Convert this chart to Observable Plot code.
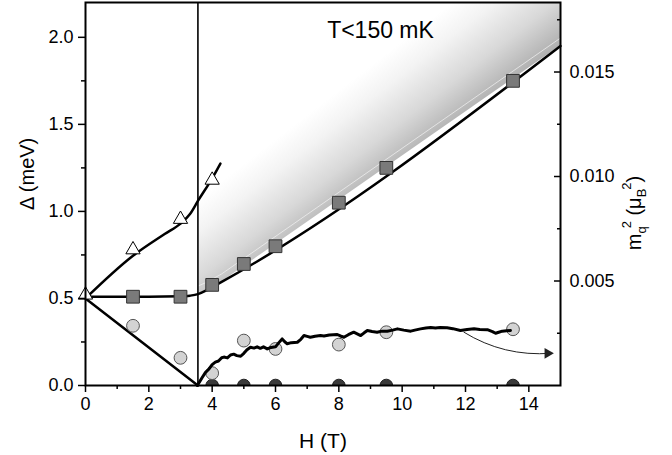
<!DOCTYPE html>
<html><head><meta charset="utf-8">
<script src="https://cdn.jsdelivr.net/npm/d3@7"></script>
<script src="https://cdn.jsdelivr.net/npm/@observablehq/plot@0.6"></script>
<style>body{margin:0;background:#fff} svg{display:block}</style>
</head><body><div id="chart"></div>
<script>
// ---- data ----
const triH = [0, 1.5, 3.0, 4.0];
const triD = [0.52, 0.78, 0.955, 1.18];
const sqH = [1.5, 3, 4, 5, 6, 8, 9.5, 13.5];
const sqD = [0.51, 0.51, 0.578, 0.698, 0.80, 1.05, 1.25, 1.75];
const circH = [1.5, 3, 4, 5, 6, 8, 9.5, 13.5];
const circD = [0.343, 0.159, 0.071, 0.258, 0.21, 0.235, 0.306, 0.323];
const zeroH = [4, 5, 6, 8, 9.5, 13.5];
const zeroD = [0, 0, 0, 0, 0, 0];
// guide-to-the-eye lines
const triFitH = [0, 1.5, 2.5, 3.0, 3.3, 3.55, 4.0, 4.26];
const triFitD = [0.50, 0.745, 0.87, 0.93, 0.985, 1.06, 1.19, 1.275];
const sqFitH = [0, 1, 2, 3, 3.3, 3.55, 3.8, 4.0, 4.3, 15];
const sqFitD = [0.51, 0.51, 0.51, 0.512, 0.516, 0.525, 0.545, 0.565, 0.595, 1.95];
const circFitH = [0, 3.55];
const circFitD = [0.5, 0];
const Hc = 3.55;
// m_q^2 (mu_B^2) vs H, right axis
const mH = [3.53,3.60,3.68,3.79,3.90,4.00,4.10,4.20,4.30,4.37,4.48,4.58,4.68,4.78,4.90,5.00,5.10,5.21,5.32,5.42,5.52,5.62,5.74,5.86,6.00,6.10,6.21,6.30,6.37,6.50,6.69,6.80,6.90,7.00,7.10,7.25,7.42,7.53,7.70,7.95,8.05,8.16,8.30,8.47,8.58,8.69,8.80,8.90,9.05,9.21,9.35,9.53,9.70,9.85,10.05,10.27,10.40,10.58,10.75,10.90,11.05,11.20,11.42,11.60,11.84,12.05,12.27,12.45,12.69,12.85,12.95,13.05,13.16,13.30,13.42];
const mQ2 = [0,0.00017,0.00037,0.00063,0.00079,0.00100,0.00112,0.00117,0.00133,0.00136,0.00132,0.00146,0.00150,0.00143,0.00140,0.00154,0.00171,0.00183,0.00179,0.00185,0.00178,0.00185,0.00175,0.00182,0.00185,0.00204,0.00223,0.00208,0.00200,0.00205,0.00207,0.00221,0.00239,0.00235,0.00231,0.00236,0.00239,0.00237,0.00242,0.00244,0.00237,0.00231,0.00243,0.00255,0.00247,0.00239,0.00252,0.00263,0.00258,0.00255,0.00260,0.00260,0.00265,0.00271,0.00265,0.00260,0.00265,0.00271,0.00275,0.00277,0.00275,0.00278,0.00276,0.00272,0.00263,0.00268,0.00271,0.00268,0.00267,0.00258,0.00250,0.00255,0.00260,0.00262,0.00263];
const arrowH = [11.95, 14.69];
const arrowM = [0.00255, 0.00154];
// axes
const xMajor = [0, 2, 4, 6, 8, 10, 12, 14];
const xMinor = [1, 3, 5, 7, 9, 11, 13];
const yMajor = [0, 0.5, 1.0, 1.5, 2.0];
const yMinor = [0.25, 0.75, 1.25, 1.75];
const rMajor = [0.005, 0.010, 0.015];
const rMinor = [0.0025, 0.0075, 0.0125, 0.0175];
const m2PerMeV = 0.00833; // right-axis units per left-axis unit

const zip = (a, b) => a.map((v, i) => ({H: v, D: b[i]}));
const tri = zip(triH, triD), sq = zip(sqH, sqD), circ = zip(circH, circD), zero = zip(zeroH, zeroD);
const triFit = zip(triFitH, triFitD), sqFit = zip(sqFitH, sqFitD), circFit = zip(circFitH, circFitD);
const areaData = sqFit.filter(d => d.H >= Hc);
const mData = mH.map((h, i) => ({H: h, D: mQ2[i] / m2PerMeV}));
const arrowData = [{x1: arrowH[0], y1: arrowM[0] / m2PerMeV, x2: arrowH[1], y2: arrowM[1] / m2PerMeV}];

const font = "'Liberation Sans', Arial, Helvetica, sans-serif";
const plot = Plot.plot({
  width: 672, height: 455,
  marginLeft: 85, marginRight: 112, marginTop: 2, marginBottom: 70,
  style: {fontFamily: font, color: "black", background: "white", overflow: "visible"},
  x: {domain: [0, 15]},
  y: {domain: [0, 2.2]},
  marks: [
    Plot.areaY(areaData, {x: "H", y1: "D", y2: 2.2, fill: "url(#shade)"}),
    Plot.line(areaData, {x: "H", y: "D", dy: -8, stroke: "#f4f4f4", strokeWidth: 0.7}),
    Plot.ruleX([Hc], {y1: 0, y2: 2.2, stroke: "black", strokeWidth: 1.6}),
    Plot.line(triFit, {x: "H", y: "D", stroke: "black", strokeWidth: 2.5, curve: "monotone-x"}),
    Plot.line(sqFit, {x: "H", y: "D", stroke: "black", strokeWidth: 2.5, curve: "monotone-x"}),
    Plot.line(circFit, {x: "H", y: "D", stroke: "black", strokeWidth: 2.5}),
    Plot.dot(zero, {x: "H", y: "D", r: 6.3, fill: "#3a3a3a", stroke: "#222", strokeWidth: 1, clip: true}),
    Plot.dot(circ, {x: "H", y: "D", r: 6.4, fill: "#d3d3d3", stroke: "#555", strokeWidth: 1}),
    Plot.dot(sq, {x: "H", y: "D", r: 7.2, symbol: "square", fill: "#7a7a7a", stroke: "#333", strokeWidth: 1}),
    Plot.dot(tri, {x: "H", y: "D", r: 5.3, symbol: "triangle", fill: "white", stroke: "black", strokeWidth: 1}),
    Plot.line(mData, {x: "H", y: "D", stroke: "black", strokeWidth: 3, strokeLinejoin: "round"}),
    Plot.arrow(arrowData, {x1: "x1", y1: "y1", x2: "x2", y2: "y2", bend: -18, stroke: "#222", strokeWidth: 1, headLength: 0}),
    Plot.dot(arrowData, {x: "x2", y: "y2", symbol: "triangle", r: 4, rotate: 90, fill: "#222", dx: -3}),
    Plot.frame({stroke: "black", strokeWidth: 2}),
    Plot.axisX({ticks: xMajor, tickSize: 7, tickPadding: 5, fontSize: 18, strokeWidth: 1.5, label: null, tickFormat: d => String(d)}),
    Plot.axisX({ticks: xMinor, tickSize: 4, strokeWidth: 1.5, text: null, label: null}),
    Plot.axisY({ticks: yMajor, tickSize: 7, tickPadding: 5, fontSize: 18, strokeWidth: 1.5, label: null, tickFormat: d => d.toFixed(1)}),
    Plot.axisY({ticks: yMinor, tickSize: 4, strokeWidth: 1.5, text: null, label: null}),
    Plot.axisY({anchor: "right", ticks: rMajor.map(r => r / m2PerMeV), tickSize: 0, tickPadding: 9, fontSize: 18, label: null, tickFormat: d => (d * m2PerMeV).toFixed(3)}),
    Plot.axisY({anchor: "right", ticks: rMajor.map(r => r / m2PerMeV), tickSize: -7, strokeWidth: 1.5, text: null, label: null}),
    Plot.axisY({anchor: "right", ticks: rMinor.map(r => r / m2PerMeV), tickSize: -4, strokeWidth: 1.5, text: null, label: null}),
    Plot.text(["H (T)"], {text: d => d, frameAnchor: "bottom", dy: 62, lineAnchor: "bottom", fontSize: 21}),
    Plot.text(["Δ (meV)"], {text: d => d, frameAnchor: "left", dx: -52, dy: 16, rotate: -90, lineAnchor: "bottom", fontSize: 20}),
    Plot.text(["T<150 mK"], {text: d => d, frameAnchor: "top-left", dx: 295, dy: 35, textAnchor: "middle", lineAnchor: "bottom", fontSize: 23})
  ]
});

// gradient shading above the square line, oriented across the line
const sx = plot.scale("x"), sy = plot.scale("y");
const n = sqFit.length;
const p1 = [sx.apply(sqFit[n - 2].H), sy.apply(sqFit[n - 2].D)];
const p2 = [sx.apply(sqFit[n - 1].H), sy.apply(sqFit[n - 1].D)];
let dx = p2[0] - p1[0], dy = p2[1] - p1[1];
const len = Math.hypot(dx, dy); dx /= len; dy /= len;
// perpendicular pointing up-left, tilted slightly so the left end is lighter
const ang = Math.atan2(-dx, dy) - 0.05;
const nx = Math.cos(ang), ny = Math.sin(ang);
const dist = 105;
const svg = d3.select(plot);
const defs = svg.insert("defs", ":first-child");
const g = defs.append("linearGradient").attr("id", "shade").attr("gradientUnits", "userSpaceOnUse")
  .attr("x1", p2[0]).attr("y1", p2[1]).attr("x2", p2[0] + nx * dist).attr("y2", p2[1] + ny * dist);
g.append("stop").attr("offset", 0).attr("stop-color", "#b0b0b0");
g.append("stop").attr("offset", 0.08).attr("stop-color", "#b8b8b8");
g.append("stop").attr("offset", 0.35).attr("stop-color", "#d8d8d8");
g.append("stop").attr("offset", 0.7).attr("stop-color", "#f3f3f3");
g.append("stop").attr("offset", 0.95).attr("stop-color", "#ffffff");

// right axis title with sub/superscripts
const rt = svg.append("text").attr("transform", "translate(641,213) rotate(-90)")
  .attr("text-anchor", "middle").attr("font-family", font).attr("font-size", 20).attr("fill", "black");
rt.append("tspan").text("m");
rt.append("tspan").attr("font-size", 13).attr("dy", 5).text("q");
rt.append("tspan").attr("font-size", 13).attr("dx", -2).attr("dy", -15).text("2");
rt.append("tspan").attr("dy", 10).text(" (μ");
rt.append("tspan").attr("font-size", 13).attr("dy", 5).text("B");
rt.append("tspan").attr("font-size", 13).attr("dx", -1).attr("dy", -15).text("2");
rt.append("tspan").attr("dy", 10).text(")");

document.getElementById("chart").appendChild(plot);
</script>
</body></html>
